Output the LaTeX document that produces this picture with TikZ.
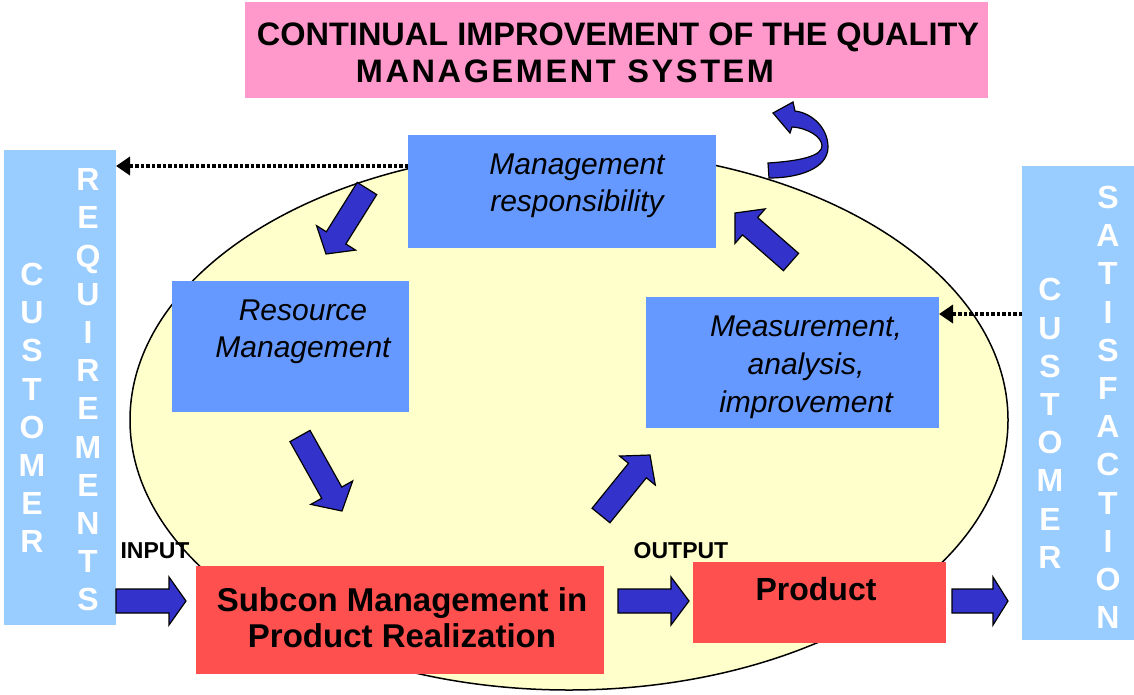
\documentclass[tikz,border=0pt]{standalone}
\usepackage{fontspec}
\setmainfont{Liberation Sans}
\usetikzlibrary{calc,arrows.meta}
\definecolor{pinkbg}{HTML}{FF99CC}
\definecolor{boxblue}{HTML}{6699FF}
\definecolor{sideblue}{HTML}{99CCFF}
\definecolor{redbox}{HTML}{FF5050}
\definecolor{ellfill}{HTML}{FFFFCC}
\definecolor{arrblue}{HTML}{3333CC}
% block arrow: #1 tail, #2 tip, #3 shaft half width, #4 head half width, #5 head length
\newcommand\barrow[5]{%
  \coordinate (ba) at (#1); \coordinate (bb) at (#2);
  \coordinate (bh) at ($(bb)!#5!(ba)$);
  \draw[blockarr] ($(ba)!#3!90:(bb)$) -- ($(bh)!#3!90:(bb)$) -- ($(bh)!#4!90:(bb)$) -- (bb)
    -- ($(bh)!#4!-90:(bb)$) -- ($(bh)!#3!-90:(bb)$) -- ($(ba)!#3!-90:(bb)$) -- cycle;}
\begin{document}
\begin{tikzpicture}[x=1pt,y=-1pt,
  blockarr/.style={fill=arrblue, draw=black, line width=1.2pt, line join=miter},
  panel/.style={inner sep=0pt, outer sep=0pt, draw=none},
  dotarrow/.style={line width=3.5pt, dash pattern=on 3.5pt off 2pt, -{Triangle[length=14pt,width=18pt]}},
  itxt/.style={font=\fontsize{30}{37}\selectfont\itshape, align=center, inner sep=0pt},
  btxt/.style={font=\fontsize{33}{36}\selectfont\bfseries, align=center, inner sep=0pt},
  vlet/.style={font=\fontsize{32}{38.2}\selectfont\bfseries, text=white, align=center, inner sep=0pt},
  smalltxt/.style={font=\fontsize{23}{25}\selectfont\bfseries, inner sep=0pt, anchor=base}]
\useasboundingbox (0,0) rectangle (1134,694);
\fill[white] (0,0) rectangle (1134,694);

% ellipse
\draw[fill=ellfill, line width=1.5pt] (569,420) ellipse [x radius=439, y radius=270];

% side panels
\node[panel, fill=sideblue, minimum width=112pt, minimum height=475pt] (custreq) at (60,387.5) {};
\node[panel, fill=sideblue, minimum width=112pt, minimum height=474pt] (custsat) at (1078,403) {};
\node[vlet] (l1) at (32,408) {C\\U\\S\\T\\O\\M\\E\\R};
\node[vlet] (l2) at (88,390) {R\\E\\Q\\U\\I\\R\\E\\M\\E\\N\\T\\S};
\node[vlet] (r1) at (1050,423.5) {C\\U\\S\\T\\O\\M\\E\\R};
\node[vlet] (r2) at (1108,407.5) {S\\A\\T\\I\\S\\F\\A\\C\\T\\I\\O\\N};

% title
\node[panel, fill=pinkbg, minimum width=743pt, minimum height=96pt] (title) at (616.5,50) {};
\node[font=\fontsize{32.5}{36}\selectfont\bfseries, inner sep=0pt, anchor=base] (t1) at (618,45) {CONTINUAL IMPROVEMENT OF THE QUALITY};
\node[font=\fontsize{32.5}{36}\selectfont\bfseries\addfontfeatures{LetterSpace=8}, inner sep=0pt, anchor=base] (t2) at (565,82) {MANAGEMENT SYSTEM};

% blue boxes
\node[panel, fill=boxblue, minimum width=308pt, minimum height=113pt] (mgmt) at (562,191.5) {};
\node[itxt] (mgmtT) at (577,186) {Management\\responsibility};
\node[panel, fill=boxblue, minimum width=237pt, minimum height=131pt] (res) at (290.5,346.5) {};
\node[itxt] (resT) at (303,332) {Resource\\Management};
\node[panel, fill=boxblue, minimum width=293pt, minimum height=131pt] (meas) at (792.5,362.5) {};
\node[font=\fontsize{30}{38}\selectfont\itshape, align=center, inner sep=0pt] (measT) at (806,367) {Measurement,\\analysis,\\improvement};

% red boxes
\node[panel, fill=redbox, minimum width=408pt, minimum height=108pt] (sub) at (400,620) {};
\node[btxt] (subT) at (402,618) {Subcon Management in\\Product Realization};
\node[panel, fill=redbox, minimum width=253pt, minimum height=81pt] (prod) at (819.5,602.5) {};
\node[font=\fontsize{32}{36}\selectfont\bfseries, inner sep=0pt, anchor=base] (prodT) at (816,600) {Product};

\node[smalltxt] (inp) at (155,558) {INPUT};
\node[smalltxt] (outp) at (681,558) {OUTPUT};

% dotted feedback arrows
\coordinate (d1s) at (mgmt.west |- 0,166);
\coordinate (d1e) at (custreq.east |- 0,166);
\draw[dotarrow] (d1s) -- (d1e);
\coordinate (d2s) at (custsat.west |- 0,314);
\coordinate (d2e) at (meas.east |- 0,314);
\draw[dotarrow] (d2s) -- (d2e);

% horizontal block arrows
\barrow{116,601}{186,601}{12pt}{24pt}{17pt}
\barrow{618,601}{689,601}{12pt}{24pt}{18pt}
\barrow{952,601}{1008,601}{12pt}{24pt}{15pt}

% diagonal block arrows
\barrow{367,188.5}{326,254}{11.5pt}{23pt}{19pt}
\barrow{300,436}{342,511}{11.5pt}{24pt}{21pt}
\barrow{601,515.5}{650,455}{11.5pt}{23pt}{20pt}
\barrow{791,262}{735,213}{11.5pt}{23pt}{20pt}

% curved improvement arrow
\draw[blockarr] (768,163) -- (769,178) .. controls (800,178) and (828,168) .. (828,147)
  .. controls (828,128) and (812,113) .. (795,111) -- (793,102) -- (773,113) -- (790,133) -- (792,127)
  .. controls (808,128) and (822,137) .. (822,146) .. controls (822,156) and (800,161) .. (768,163) -- cycle;
\end{tikzpicture}
\end{document}
